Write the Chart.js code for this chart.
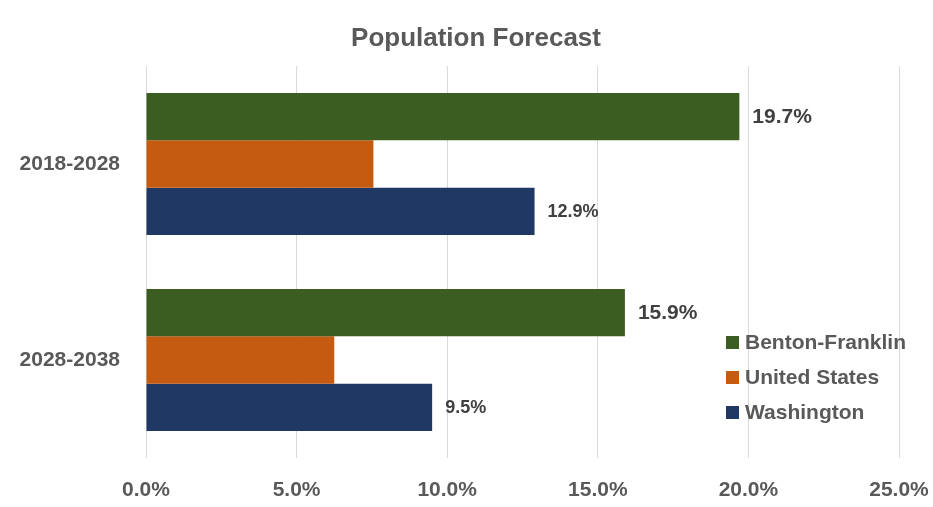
<!DOCTYPE html>
<html>
<head>
<meta charset="utf-8">
<script src="https://cdn.jsdelivr.net/npm/chart.js@4/dist/chart.umd.min.js"></script>
<style>
  html, body { margin: 0; padding: 0; background: #fff; }
  #wrap { width: 933px; height: 507px; position: relative; }
</style>
</head>
<body>
<div id="wrap"><canvas id="forecast-chart" width="933" height="507"></canvas></div>
<script>
const periods = ["2018-2028", "2028-2038"];
const bentonFranklin = [19.7, 15.9];
const unitedStates = [7.55, 6.25];
const washington = [12.9, 9.5];
const seriesNames = ["Benton-Franklin", "United States", "Washington"];
const xTicks = [0, 5, 10, 15, 20, 25];
const chartTitle = "Population Forecast";

const GREEN = "#3b5d22";
const ORANGE = "#c55a11";
const NAVY = "#203864";
const FONT = "'Liberation Sans', Arial, sans-serif";

// value labels next to the green and navy bars only
const barLabels = {
  id: "barLabels",
  afterDatasetsDraw(chart) {
    const ctx = chart.ctx;
    const sizes = { 0: 21, 2: 18 };
    ctx.save();
    ctx.fillStyle = "#404040";
    ctx.textBaseline = "middle";
    ctx.textAlign = "left";
    Object.keys(sizes).forEach((i) => {
      const meta = chart.getDatasetMeta(+i);
      ctx.font = `bold ${sizes[i]}px ${FONT}`;
      meta.data.forEach((bar, j) => {
        const v = chart.data.datasets[i].data[j];
        ctx.fillText(v.toFixed(1) + "%", bar.x + 13, bar.y + 1);
      });
    });
    ctx.restore();
  },
};

// title (centred on the whole frame) and legend inside the plot
const titleAndLegend = {
  id: "titleAndLegend",
  afterDraw(chart) {
    const ctx = chart.ctx;
    ctx.save();
    ctx.textBaseline = "middle";
    ctx.textAlign = "center";
    ctx.fillStyle = "#595959";
    ctx.font = `bold 26px ${FONT}`;
    ctx.fillText(chartTitle, 476, 39);

    ctx.font = `bold 21px ${FONT}`;
    ctx.textAlign = "left";
    chart.data.datasets.forEach((ds, i) => {
      const y = 342 + i * 35;
      ctx.fillStyle = ds.backgroundColor;
      ctx.fillRect(726, y - 6, 13, 13);
      ctx.fillStyle = "#595959";
      ctx.fillText(ds.label, 745, y + 1);
    });
    ctx.restore();
  },
};

new Chart(document.getElementById("forecast-chart"), {
  type: "bar",
  data: {
    labels: periods,
    datasets: [
      { label: seriesNames[0], data: bentonFranklin, backgroundColor: GREEN },
      { label: seriesNames[1], data: unitedStates, backgroundColor: ORANGE },
      { label: seriesNames[2], data: washington, backgroundColor: NAVY },
    ],
  },
  options: {
    indexAxis: "y",
    responsive: false,
    animation: false,
    datasets: {
      bar: { categoryPercentage: 0.725, barPercentage: 1 },
    },
    layout: { padding: { left: 0, right: 34, top: 66, bottom: 0 } },
    plugins: {
      legend: { display: false },
      tooltip: { enabled: false },
      title: { display: false },
    },
    scales: {
      x: {
        min: 0,
        max: 25,
        afterBuildTicks: (scale) => {
          scale.ticks = xTicks.map((v) => ({ value: v }));
        },
        afterFit: (scale) => {
          scale.height = 49;
          scale.paddingLeft = 0;
          scale.paddingRight = 0;
        },
        grid: { color: "#d9d9d9", drawTicks: false },
        border: { display: false },
        ticks: {
          padding: 20,
          color: "#595959",
          font: { family: FONT, size: 21, weight: "bold" },
          callback: (v) => v.toFixed(1) + "%",
        },
      },
      y: {
        afterFit: (scale) => {
          scale.width = 146;
        },
        grid: { display: false, drawTicks: false },
        border: { display: false },
        ticks: {
          padding: 26,
          color: "#595959",
          font: { family: FONT, size: 21, weight: "bold" },
        },
      },
    },
  },
  plugins: [barLabels, titleAndLegend],
});
</script>
</body>
</html>
